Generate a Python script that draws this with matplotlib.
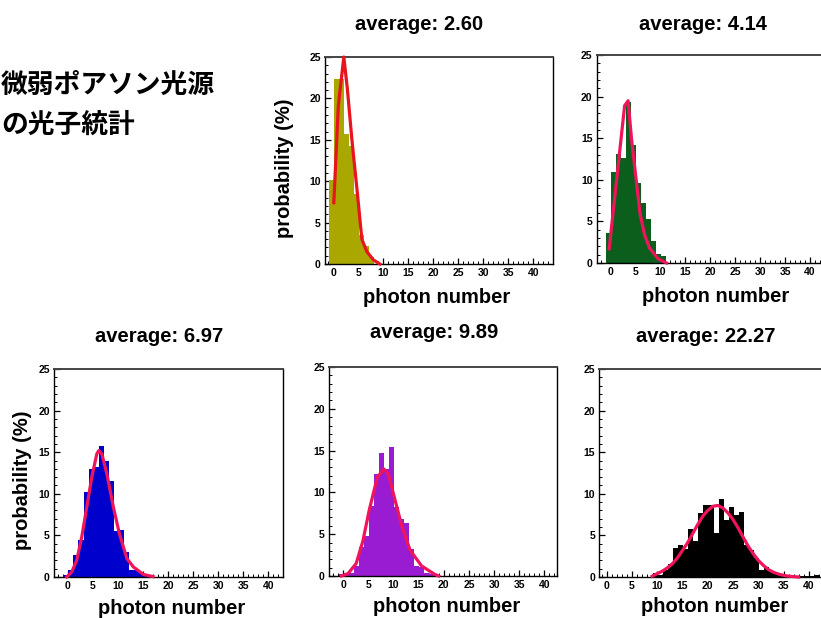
import matplotlib
matplotlib.use("Agg")
import matplotlib.pyplot as plt
from matplotlib.ticker import MultipleLocator

plt.rcParams["font.family"] = ["Liberation Sans", "DejaVu Sans"]
plt.rcParams["font.weight"] = "bold"

# ---------------- data ----------------
averages = ["2.60", "4.14", "6.97", "9.89", "22.27"]

p1_n = list(range(0, 9))
p1_prob = [10.2, 22.4, 22.4, 15.7, 14.3, 8.5, 3.5, 2.2, 0.8]
p1_fit_x = [0.1, 1.0, 2.1, 2.8, 3.7, 4.8, 5.7, 6.7, 8.0, 9.3]
p1_fit_y = [7.4, 19.1, 25.0, 21.2, 15.1, 8.6, 3.0, 1.5, 0.5, 0.0]

p2_n = list(range(0, 12))
p2_prob = [3.6, 10.95, 13.1, 12.6, 19.4, 14.2, 9.6, 7.2, 5.3, 2.65, 1.1, 0.85]
p2_fit_x = [-0.3, 1.2, 2.8, 3.5, 4.2, 5.0, 5.9, 6.8, 7.8, 9.5, 11.2]
p2_fit_y = [1.7, 10.0, 18.9, 19.5, 14.8, 10.6, 5.9, 3.4, 1.8, 0.5, 0.0]

p3_n = list(range(0, 18))
p3_prob = [0.3, 0.8, 2.6, 4.4, 10.2, 13.0, 13.2, 15.7, 13.9, 11.5,
           5.5, 5.6, 3.0, 0.9, 0.9, 0.5, 0.3, 0.2]
p3_fit_x = [-0.2, 0.8, 1.8, 2.8, 3.8, 4.8, 5.8, 6.2, 6.8, 7.8, 9.1, 10.3,
            11.8, 13.1, 15.1, 17.0]
p3_fit_y = [0.0, 0.6, 2.0, 4.8, 8.4, 12.0, 14.8, 15.2, 14.8, 12.4, 8.4, 5.2,
            2.2, 1.2, 0.3, 0.05]

p4_n = list(range(0, 19))
p4_prob = [0.2, 0.3, 0.3, 1.2, 3.5, 4.8, 8.4, 12.2, 14.7, 12.8, 15.4, 8.2,
           6.8, 6.3, 3.2, 1.2, 1.1, 0.3, 0.2]
p4_fit_x = [-0.3, 1.0, 2.6, 3.9, 5.2, 6.8, 8.1, 9.0, 10.1, 11.7, 13.3, 15.6,
            18.2, 19.0]
p4_fit_y = [0.0, 0.3, 1.5, 4.1, 7.9, 11.8, 12.8, 12.2, 9.6, 5.9, 3.1, 1.2,
            0.2, 0.0]

p5_n = list(range(10, 43))
p5_prob = [0.5, 0.2, 0.8, 1.6, 3.5, 3.8, 3.4, 5.8, 4.3, 7.75, 8.6, 8.6, 5.3,
           9.4, 6.8, 8.4, 7.5, 7.8, 3.8, 3.2, 2.3, 0.9, 1.2, 0.6, 0.4, 0.3,
           0.2, 0.2, 0.1, 0.1, 0.1, 0.1, 0.3]
p5_fit_x = list(range(9, 39))
p5_fit_y = [0.1, 0.4, 0.7, 1.1, 1.6, 2.3, 3.2, 4.1, 5.2, 6.3, 7.3, 8.0, 8.5,
            8.6, 8.3, 7.7, 6.9, 5.9, 4.8, 3.7, 2.8, 2.0, 1.4, 0.9, 0.57,
            0.35, 0.2, 0.1, 0.05, 0.0]

title_text = "微弱ポアソン光源\nの光子統計"

# ---------------- layout ----------------
W, H = 821, 618
fig = plt.figure(figsize=(W / 100, H / 100), dpi=100)


def frac(x, y):
    return x / W, 1 - y / H


panels = [
    dict(n=p1_n, p=p1_prob, fx=p1_fit_x, fy=p1_fit_y, color="#aaa800",
         fit="#e8141e", box=(325, 553, 57, 264), xlim=(-1.66, 43.9),
         title_xy=(419, 24), xlabel_xy=(437, 298), ylabel_xy=(285, 168)),
    dict(n=p2_n, p=p2_prob, fx=p2_fit_x, fy=p2_fit_y, color="#0b5e1b",
         fit="#f0145a", box=(596.7, 825, 55, 263), xlim=(-2.8, 43.0),
         title_xy=(703, 24), xlabel_xy=(716, 296), ylabel_xy=None),
    dict(n=p3_n, p=p3_prob, fx=p3_fit_x, fy=p3_fit_y, color="#0000cc",
         fit="#f0145a", box=(54, 283, 369, 577), xlim=(-2.73, 42.9),
         title_xy=(159, 336), xlabel_xy=(172, 608), ylabel_xy=(22, 480)),
    dict(n=p4_n, p=p4_prob, fx=p4_fit_x, fy=p4_fit_y, color="#9a1cd2",
         fit="#f0145a", box=(329, 557, 367, 576), xlim=(-2.8, 42.5),
         title_xy=(434, 333), xlabel_xy=(447, 606), ylabel_xy=None),
    dict(n=p5_n, p=p5_prob, fx=p5_fit_x, fy=p5_fit_y, color="#000000",
         fit="#f0145a", box=(599.3, 828, 369, 577), xlim=(-1.47, 43.8),
         title_xy=(706, 336), xlabel_xy=(715, 606), ylabel_xy=None),
]

for i, pn in enumerate(panels):
    l, r, t, b = pn["box"]
    ax = fig.add_axes([l / W, 1 - b / H, (r - l) / W, (b - t) / H])
    ax.bar([v - 0.85 for v in pn["n"]], pn["p"], width=1.0, align="edge",
           color=pn["color"], linewidth=0, zorder=2)
    ax.plot(pn["fx"], pn["fy"], color=pn["fit"], lw=2.3, zorder=3,
            solid_joinstyle="round", clip_on=False)
    ax.set_xlim(*pn["xlim"])
    ax.set_ylim(0, 25)
    ax.xaxis.set_major_locator(MultipleLocator(5))
    ax.xaxis.set_minor_locator(MultipleLocator(1))
    ax.yaxis.set_major_locator(MultipleLocator(5))
    ax.yaxis.set_minor_locator(MultipleLocator(1))
    ax.set_xticks([0, 5, 10, 15, 20, 25, 30, 35, 40])
    ax.tick_params(axis="both", which="major", direction="in", length=4,
                   width=0.9, labelsize=7.5, pad=3)
    ax.tick_params(axis="both", which="minor", direction="in", length=2.3,
                   width=0.7)
    ax.tick_params(top=False, right=False, which="both")
    for s in ("left", "bottom", "right"):
        ax.spines[s].set_color("black")
        ax.spines[s].set_linewidth(1.0)
    ax.spines["top"].set_color("#444444")
    ax.spines["top"].set_linewidth(1.4)

    tx, ty = frac(*pn["title_xy"])
    fig.text(tx, ty, "average: " + averages[i], ha="center", va="center",
             fontsize=14.5, fontweight="bold")
    lx, ly = frac(*pn["xlabel_xy"])
    fig.text(lx, ly, "photon number", ha="center", va="center",
             fontsize=14.5, fontweight="bold")
    if pn["ylabel_xy"] is not None:
        yx, yy = frac(*pn["ylabel_xy"])
        fig.text(yx, yy, "probability (%)", ha="center", va="center",
                 rotation=90, fontsize=14.5, fontweight="bold")

jx, jy = frac(1, 105)
fig.text(jx, jy, title_text, ha="left", va="center", fontsize=19.3,
         fontweight="bold", linespacing=1.55,
         family=["Noto Sans CJK JP", "DejaVu Sans"])

fig.savefig("out.png", dpi=100)
